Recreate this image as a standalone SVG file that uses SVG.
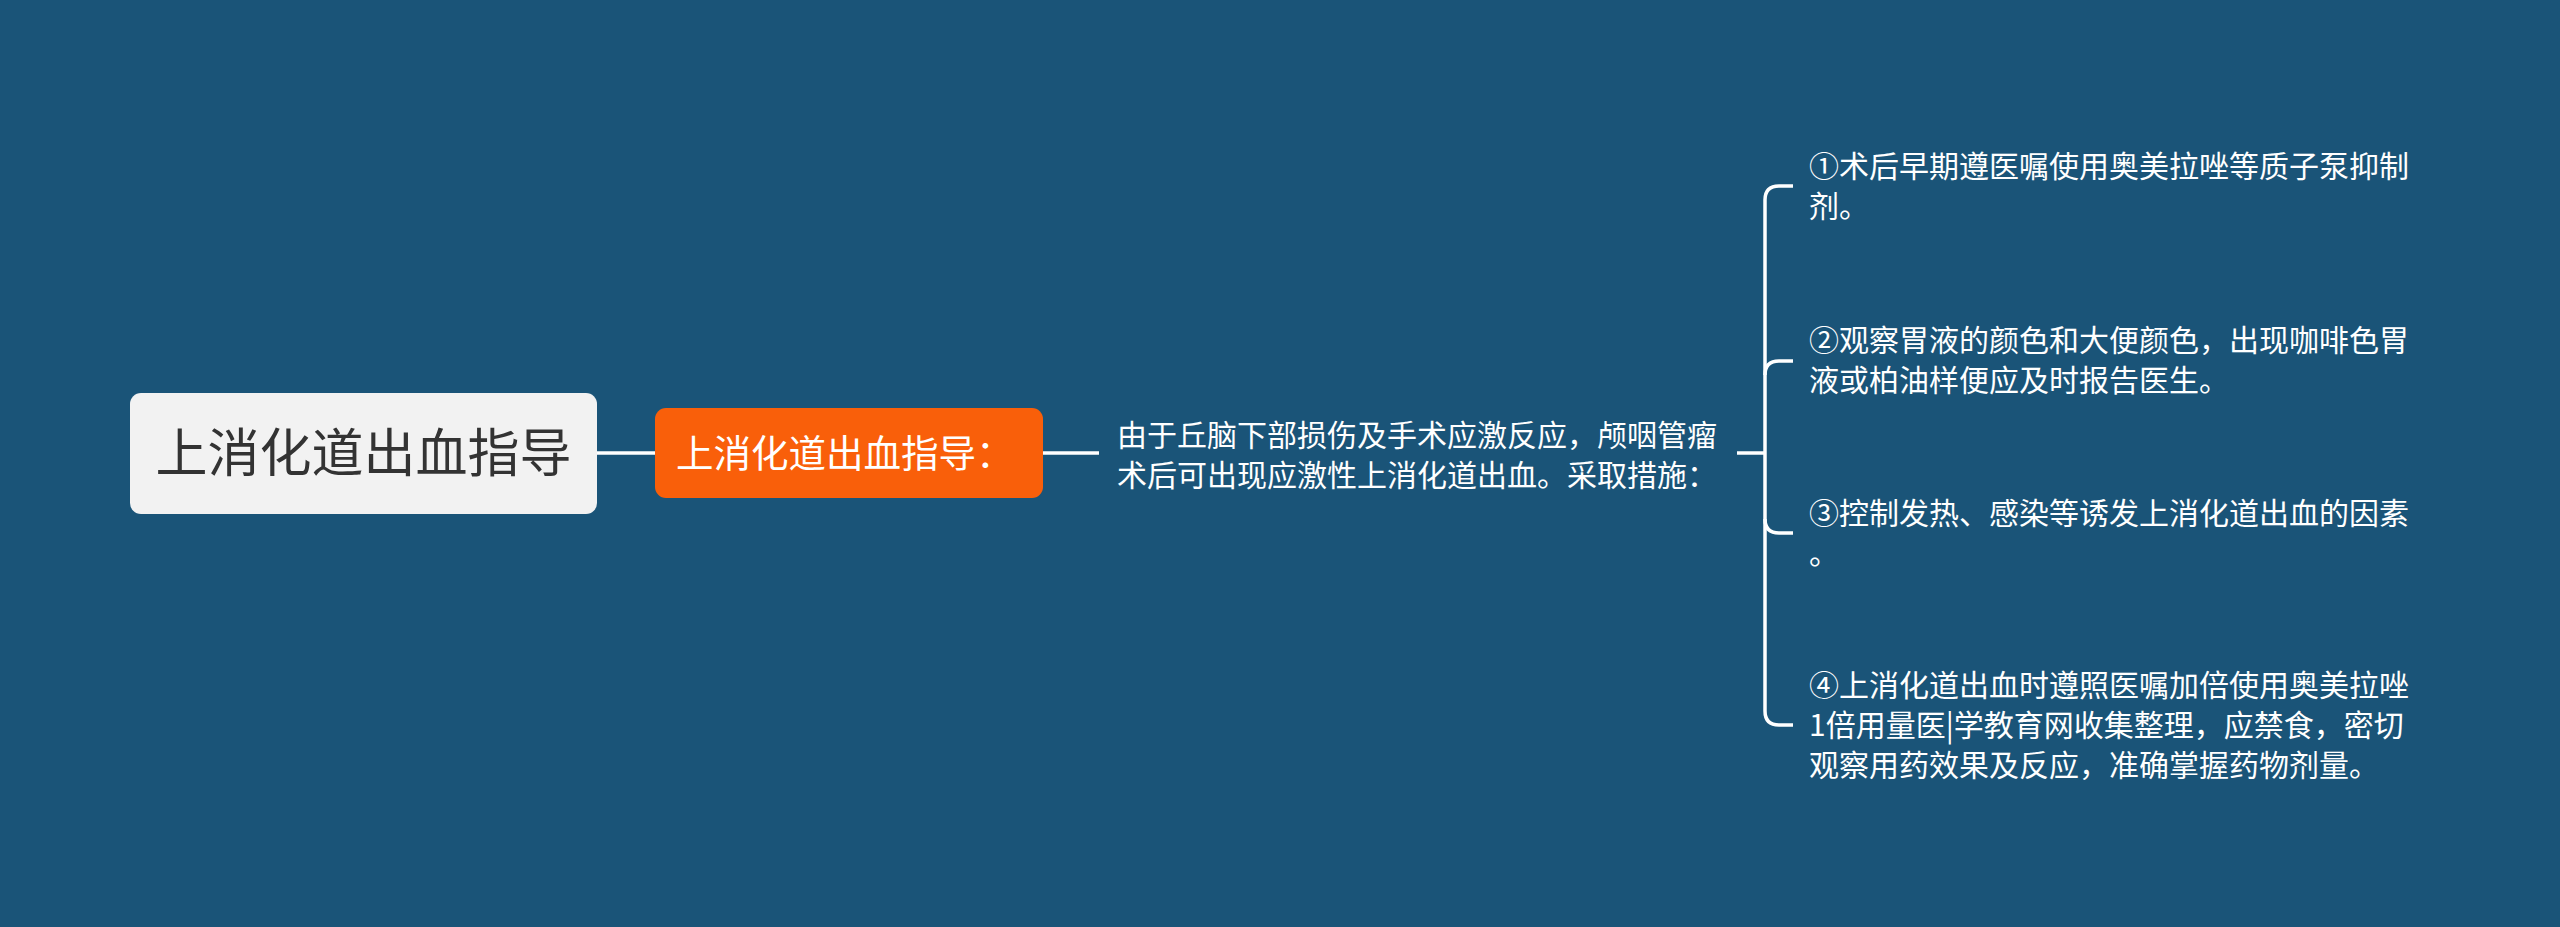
<svg xmlns="http://www.w3.org/2000/svg" width="2560" height="927" viewBox="0 0 2560 927">
<style>
.t{font-family:"Noto Sans CJK SC","Liberation Sans",sans-serif;}
.item{font-size:30px;fill:#ffffff;}
.ln{stroke:#ffffff;stroke-width:3.5;fill:none;stroke-linecap:butt;}
</style>
<rect x="0" y="0" width="2560" height="927" fill="#1a5478"/>
<g id="connectors">
<line class="ln" x1="597" y1="453" x2="655" y2="453"/>
<line class="ln" x1="1043" y1="453" x2="1099" y2="453"/>
<line class="ln" x1="1737" y1="453" x2="1765" y2="453"/>
<path class="ln" d="M1765 200 Q1765 186 1779 186 L1793 186"/>
<line class="ln" x1="1765" y1="200" x2="1765" y2="711"/>
<path class="ln" d="M1765 375 Q1765 361 1779 361 L1793 361"/>
<path class="ln" d="M1765 519 Q1765 533 1779 533 L1793 533"/>
<path class="ln" d="M1765 711 Q1765 725 1779 725 L1793 725"/>
</g>
<g id="root">
<rect x="130" y="393" width="467" height="121" rx="11" fill="#f2f2f2"/>
<text class="t" x="363.5" y="472" font-size="52" fill="#333333" text-anchor="middle">上消化道出血指导</text>
</g>
<g id="main">
<rect x="655" y="408" width="388" height="90" rx="11" fill="#f95f0a"/>
<text class="t" x="676" y="467" font-size="37.5" fill="#ffffff">上消化道出血指导：</text>
</g>
<g id="desc">
<text class="t item" x="1117" y="446">由于丘脑下部损伤及手术应激反应，颅咽管瘤</text>
<text class="t item" x="1117" y="486">术后可出现应激性上消化道出血。采取措施：</text>
</g>
<g id="item1">
<text class="t item" x="1809" y="177">①术后早期遵医嘱使用奥美拉唑等质子泵抑制</text>
<text class="t item" x="1809" y="217">剂。</text>
</g>
<g id="item2">
<text class="t item" x="1809" y="351">②观察胃液的颜色和大便颜色，出现咖啡色胃</text>
<text class="t item" x="1809" y="391">液或柏油样便应及时报告医生。</text>
</g>
<g id="item3">
<text class="t item" x="1809" y="524">③控制发热、感染等诱发上消化道出血的因素</text>
<text class="t item" x="1809" y="564">。</text>
</g>
<g id="item4">
<text class="t item" x="1809" y="696">④上消化道出血时遵照医嘱加倍使用奥美拉唑</text>
<text class="t item" x="1809" y="736">1倍用量医|学教育网收集整理，应禁食，密切</text>
<text class="t item" x="1809" y="776">观察用药效果及反应，准确掌握药物剂量。</text>
</g>
</svg>
